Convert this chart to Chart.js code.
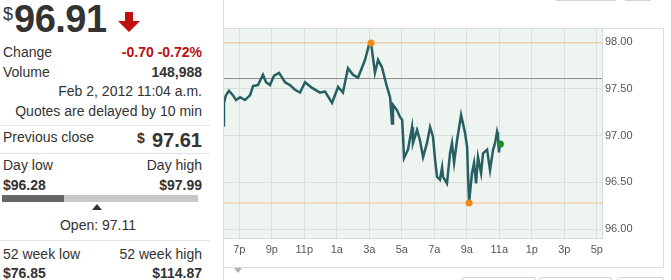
<!DOCTYPE html>
<html>
<head>
<meta charset="utf-8">
<script src="https://cdn.jsdelivr.net/npm/chart.js@4.4.0/dist/chart.umd.min.js"></script>
<style>
  html, body { margin: 0; padding: 0; background: #fff; }
  body { width: 671px; height: 280px; position: relative; overflow: hidden;
         font-family: Arial, "Liberation Sans", sans-serif; color: #333; }
  .t { position: absolute; font-size: 14px; line-height: 14px; white-space: nowrap; }
  .r { left: 0; width: 202px; text-align: right; }
  .b { font-weight: bold; }
  .red { color: #b8100f; }
  .sep { position: absolute; left: 0; width: 210px; height: 1px; background: #dde3e3; }
  .ln { position: absolute; background: #d9dddc; pointer-events: none; }
  .btn { position: absolute; border: 1px solid #d2d6d6; border-radius: 2px; box-sizing: border-box; }
  #chart { position: absolute; left: 215px; top: 0; }
</style>
</head>
<body>
  <!-- quote panel -->
  <div class="t" style="left:3px;top:5px;font-size:18px;line-height:18px;">$</div>
  <div class="t b" style="left:14px;top:0px;font-size:38px;line-height:38px;letter-spacing:-0.5px;">96.91</div>
  <svg style="position:absolute;left:117px;top:12px;" width="24" height="21">
    <polygon points="8,0 16,0 16,9 23,9 12,20 1,9 8,9" fill="#c0100e"/>
  </svg>

  <div class="t" style="left:3px;top:45px;">Change</div>
  <div class="t r b red" style="top:45px;">-0.70 -0.72%</div>
  <div class="t" style="left:3px;top:65px;">Volume</div>
  <div class="t r b" style="top:65px;">148,988</div>
  <div class="t r" style="top:84px;">Feb 2, 2012 11:04 a.m.</div>
  <div class="t r" style="top:104px;">Quotes are delayed by 10 min</div>
  <div class="sep" style="top:125px;"></div>

  <div class="t" style="left:3px;top:130px;">Previous close</div>
  <div class="t b" style="left:137px;top:131px;font-size:14px;">$</div>
  <div class="t r b" style="top:130px;font-size:20px;line-height:20px;">97.61</div>
  <div class="sep" style="top:153px;"></div>

  <div class="t" style="left:3px;top:158px;">Day low</div>
  <div class="t r" style="top:158px;">Day high</div>
  <div class="t b" style="left:3px;top:178px;">$96.28</div>
  <div class="t r b" style="top:178px;">$97.99</div>
  <div style="position:absolute;left:2px;top:195px;width:196px;height:7px;background:#c8c8c8;"></div>
  <div style="position:absolute;left:2px;top:195px;width:62px;height:7px;background:#666;"></div>
  <svg style="position:absolute;left:92px;top:204px;" width="10" height="6">
    <polygon points="5,0 10,6 0,6" fill="#333"/>
  </svg>
  <div class="t" style="left:0;width:196px;text-align:center;top:218px;">Open: 97.11</div>
  <div class="sep" style="top:240px;"></div>

  <div class="t" style="left:3px;top:247px;">52 week low</div>
  <div class="t r" style="top:247px;">52 week high</div>
  <div class="t b" style="left:3px;top:266px;">$76.85</div>
  <div class="t r b" style="top:266px;">$114.87</div>

  <!-- chart -->
  <canvas id="chart" width="456" height="280"></canvas>

  <!-- chart frame -->
  <div class="ln" style="left:223px;top:0;width:1px;height:280px;"></div>
  <div class="ln" style="left:223px;top:28px;width:440px;height:1px;"></div>
  <div class="ln" style="left:663px;top:28px;width:1px;height:240px;"></div>
  <div class="ln" style="left:223px;top:267px;width:441px;height:1px;"></div>
  <svg style="position:absolute;left:234px;top:268px;" width="8" height="6">
    <polygon points="0,0 8,0 4,5" fill="#a8b2b4"/>
  </svg>
  <div class="btn" style="left:555px;top:-10px;width:62px;height:11px;"></div>
  <div class="btn" style="left:624px;top:-10px;width:28px;height:11px;"></div>
  <div class="btn" style="left:462px;top:277px;width:74px;height:12px;"></div>
  <div class="btn" style="left:539px;top:277px;width:73px;height:12px;"></div>
  <div class="btn" style="left:617px;top:277px;width:47px;height:12px;"></div>

<script>
// hours since midnight Feb 1 (18 = 6p, 35.07 = 11:04a)
const timeHours = [
  18.00, 18.06, 18.18, 18.37, 18.62, 18.80, 19.05, 19.35, 19.66, 19.85,
  20.15, 20.46, 20.65, 20.89, 21.14, 21.45, 21.82, 22.12, 22.43, 22.74,
  23.05, 23.48, 23.97, 24.28, 24.71, 25.08, 25.38, 25.69, 26.00, 26.31,
  26.74, 26.98, 27.11, 27.35, 27.54, 27.78, 28.09, 28.28, 28.40, 28.46,
  28.71, 28.89, 29.02, 29.08, 29.14, 29.38, 29.63, 29.69, 29.94, 30.12,
  30.31, 30.55, 30.74, 30.92, 31.05, 31.17, 31.35, 31.48, 31.54, 31.78,
  31.97, 32.09, 32.22, 32.40, 32.65, 32.89, 33.02, 33.08, 33.14, 33.32,
  33.45, 33.57, 33.69, 33.88, 34.00, 34.25, 34.43, 34.62, 34.74, 34.86,
  34.92, 34.98, 35.03, 35.07
];
const prices = [
  97.11, 97.35, 97.43, 97.48, 97.43, 97.38, 97.41, 97.38, 97.43, 97.53,
  97.54, 97.65, 97.57, 97.54, 97.64, 97.67, 97.57, 97.54, 97.49, 97.46,
  97.57, 97.51, 97.46, 97.47, 97.35, 97.52, 97.46, 97.72, 97.65, 97.62,
  97.81, 97.97, 97.99, 97.67, 97.81, 97.73, 97.52, 97.41, 97.13, 97.33,
  97.27, 97.20, 97.17, 96.99, 96.76, 96.85, 97.09, 96.92, 97.06, 96.95,
  96.77, 96.92, 97.09, 96.99, 96.74, 96.56, 96.53, 96.66, 96.56, 96.49,
  96.81, 96.92, 96.71, 96.95, 97.22, 97.03, 96.88, 96.56, 96.28, 96.60,
  96.71, 96.49, 96.77, 96.60, 96.81, 96.85, 96.63, 96.85, 96.92, 97.04,
  96.99, 96.82, 96.90, 96.91
];

const xTickHours = [19, 21, 23, 25, 27, 29, 31, 33, 35, 37, 39, 41];
const xTickLabels = ['7p', '9p', '11p', '1a', '3a', '5a', '7a', '9a', '11a', '1p', '3p', '5p'];
const yTicks = [96.00, 96.50, 97.00, 97.50, 98.00];

const previousClose = 97.61;
const dayHigh = 97.99;
const dayHighTime = 27.11;
const dayLow = 96.28;
const dayLowTime = 33.14;
const lastPrice = 96.91;
const lastTime = 35.07;

const xMin = 18, xMax = 41.32;
const yMin = 95.906, yMax = 98.15;

document.addEventListener('DOMContentLoaded', function() {
    var ctx = document.getElementById('chart').getContext('2d');

    var plotBackground = {
        id: 'plotBackground',
        beforeDraw: function(chart) {
            var a = chart.chartArea;
            chart.ctx.save();
            chart.ctx.fillStyle = '#eef4f0';
            chart.ctx.fillRect(a.left, a.top, a.right - a.left, a.bottom - a.top);
            chart.ctx.restore();
        }
    };

    function flatLine(value) {
        return [{ x: xMin, y: value }, { x: xMax, y: value }];
    }

    new Chart(ctx, {
        type: 'line',
        data: {
            datasets: [
                {   // high / low / last markers
                    type: 'scatter',
                    data: [
                        { x: dayHighTime, y: dayHigh },
                        { x: dayLowTime, y: dayLow },
                        { x: lastTime, y: lastPrice }
                    ],
                    pointRadius: 3.5,
                    pointBackgroundColor: ['#f0881a', '#f0881a', '#1c8c2c'],
                    pointBorderWidth: 0,
                    order: 0
                },
                {
                    data: timeHours.map((h, i) => ({ x: h, y: prices[i] })),
                    borderColor: '#285f63',
                    borderWidth: 2.5,
                    pointRadius: 0,
                    tension: 0,
                    order: 1
                },
                {
                    data: flatLine(previousClose),
                    borderColor: '#8c8f8e',
                    borderWidth: 1,
                    pointRadius: 0,
                    order: 2
                },
                {
                    data: flatLine(dayHigh),
                    borderColor: '#f2c28c',
                    borderWidth: 1,
                    pointRadius: 0,
                    order: 2
                },
                {
                    data: flatLine(dayLow),
                    borderColor: '#f2c28c',
                    borderWidth: 1,
                    pointRadius: 0,
                    order: 2
                }
            ]
        },
        options: {
            responsive: false,
            animation: false,
            events: [],
            layout: { padding: { left: 8, top: 28, right: 0, bottom: 0 } },
            plugins: {
                legend: { display: false },
                tooltip: { enabled: false }
            },
            scales: {
                x: {
                    type: 'linear',
                    min: xMin,
                    max: xMax,
                    afterBuildTicks: function(scale) {
                        scale.ticks = xTickHours.map(v => ({ value: v }));
                    },
                    afterFit: function(scale) { scale.height = 42; },
                    grid: { color: '#d8e1dd', drawTicks: false },
                    border: { color: '#d5dbd9' },
                    ticks: {
                        padding: 5,
                        maxRotation: 0,
                        autoSkip: false,
                        color: '#555',
                        font: { family: 'Arial, "Liberation Sans"', size: 11 },
                        callback: function(v) {
                            var i = xTickHours.indexOf(v);
                            return i >= 0 ? xTickLabels[i] : '';
                        }
                    }
                },
                y: {
                    position: 'right',
                    min: yMin,
                    max: yMax,
                    afterBuildTicks: function(scale) {
                        scale.ticks = yTicks.map(v => ({ value: v }));
                    },
                    afterFit: function(scale) { scale.width = 69; },
                    grid: { color: '#d8e1dd', drawTicks: false },
                    border: { color: '#d5dbd9' },
                    ticks: {
                        padding: 3,
                        color: '#555',
                        font: { family: 'Arial, "Liberation Sans"', size: 11 },
                        callback: function(v) { return Number(v).toFixed(2); }
                    }
                }
            }
        },
        plugins: [plotBackground]
    });
});
</script>
</body>
</html>
